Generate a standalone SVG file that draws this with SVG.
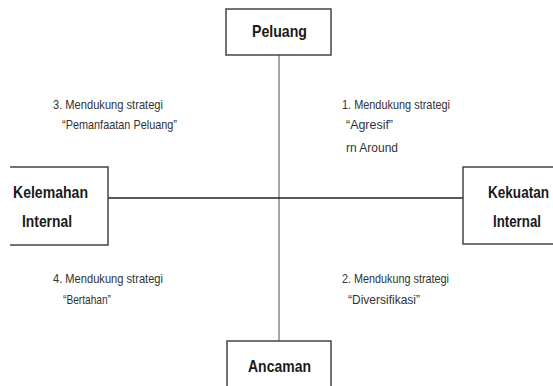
<svg xmlns="http://www.w3.org/2000/svg" width="553" height="386" viewBox="0 0 553 386">
<style>
.box{fill:#fff;stroke:#444;stroke-width:1.5}
.lbl{font-family:"Liberation Sans",Arial,sans-serif;font-weight:bold;font-size:17px;fill:#1a1a1a}
.note{font-family:"Liberation Sans",Arial,sans-serif;font-size:13px;fill:#333}
</style>
<rect width="553" height="386" fill="#fff"/>
<g id="connectors">
<line x1="279" y1="55" x2="279" y2="341" stroke="#888" stroke-width="1.5"/>
<line x1="108" y1="198" x2="463" y2="198" stroke="#222" stroke-width="1.5"/>
</g>
<g id="peluang">
<rect class="box" x="226" y="9" width="105" height="46"/>
<text class="lbl" x="252" y="37" textLength="55" lengthAdjust="spacingAndGlyphs">Peluang</text>
</g>
<g id="kelemahan">
<path class="box" d="M10,167 H108 V245 H10"/>
<text class="lbl" x="13" y="198" textLength="75" lengthAdjust="spacingAndGlyphs">Kelemahan</text>
<text class="lbl" x="22" y="227" textLength="50" lengthAdjust="spacingAndGlyphs">Internal</text>
</g>
<g id="kekuatan">
<path class="box" d="M553,167 H463 V244 H553"/>
<text class="lbl" x="549" y="198" text-anchor="end" textLength="61" lengthAdjust="spacingAndGlyphs">Kekuatan</text>
<text class="lbl" x="493" y="227" textLength="48" lengthAdjust="spacingAndGlyphs">Internal</text>
</g>
<g id="ancaman">
<rect class="box" x="227" y="341" width="104" height="60"/>
<text class="lbl" x="248" y="372" textLength="63" lengthAdjust="spacingAndGlyphs">Ancaman</text>
</g>
<g id="notes">
<text class="note" x="53" y="109" textLength="110" lengthAdjust="spacingAndGlyphs">3. Mendukung strategi</text>
<text class="note" x="62" y="129" textLength="115" lengthAdjust="spacingAndGlyphs">“Pemanfaatan Peluang”</text>
<text class="note" x="342" y="109" textLength="108" lengthAdjust="spacingAndGlyphs">1. Mendukung  strategi</text>
<text class="note" x="346" y="129" textLength="47" lengthAdjust="spacingAndGlyphs">“Agresif”</text>
<text class="note" x="346" y="152" textLength="52" lengthAdjust="spacingAndGlyphs">rn Around</text>
<text class="note" x="53" y="283" textLength="110" lengthAdjust="spacingAndGlyphs">4. Mendukung strategi</text>
<text class="note" x="63" y="304" textLength="48" lengthAdjust="spacingAndGlyphs">“Bertahan”</text>
<text class="note" x="342" y="283" textLength="107" lengthAdjust="spacingAndGlyphs">2. Mendukung strategi</text>
<text class="note" x="348" y="304" textLength="72" lengthAdjust="spacingAndGlyphs">“Diversifikasi”</text>
</g>
</svg>
